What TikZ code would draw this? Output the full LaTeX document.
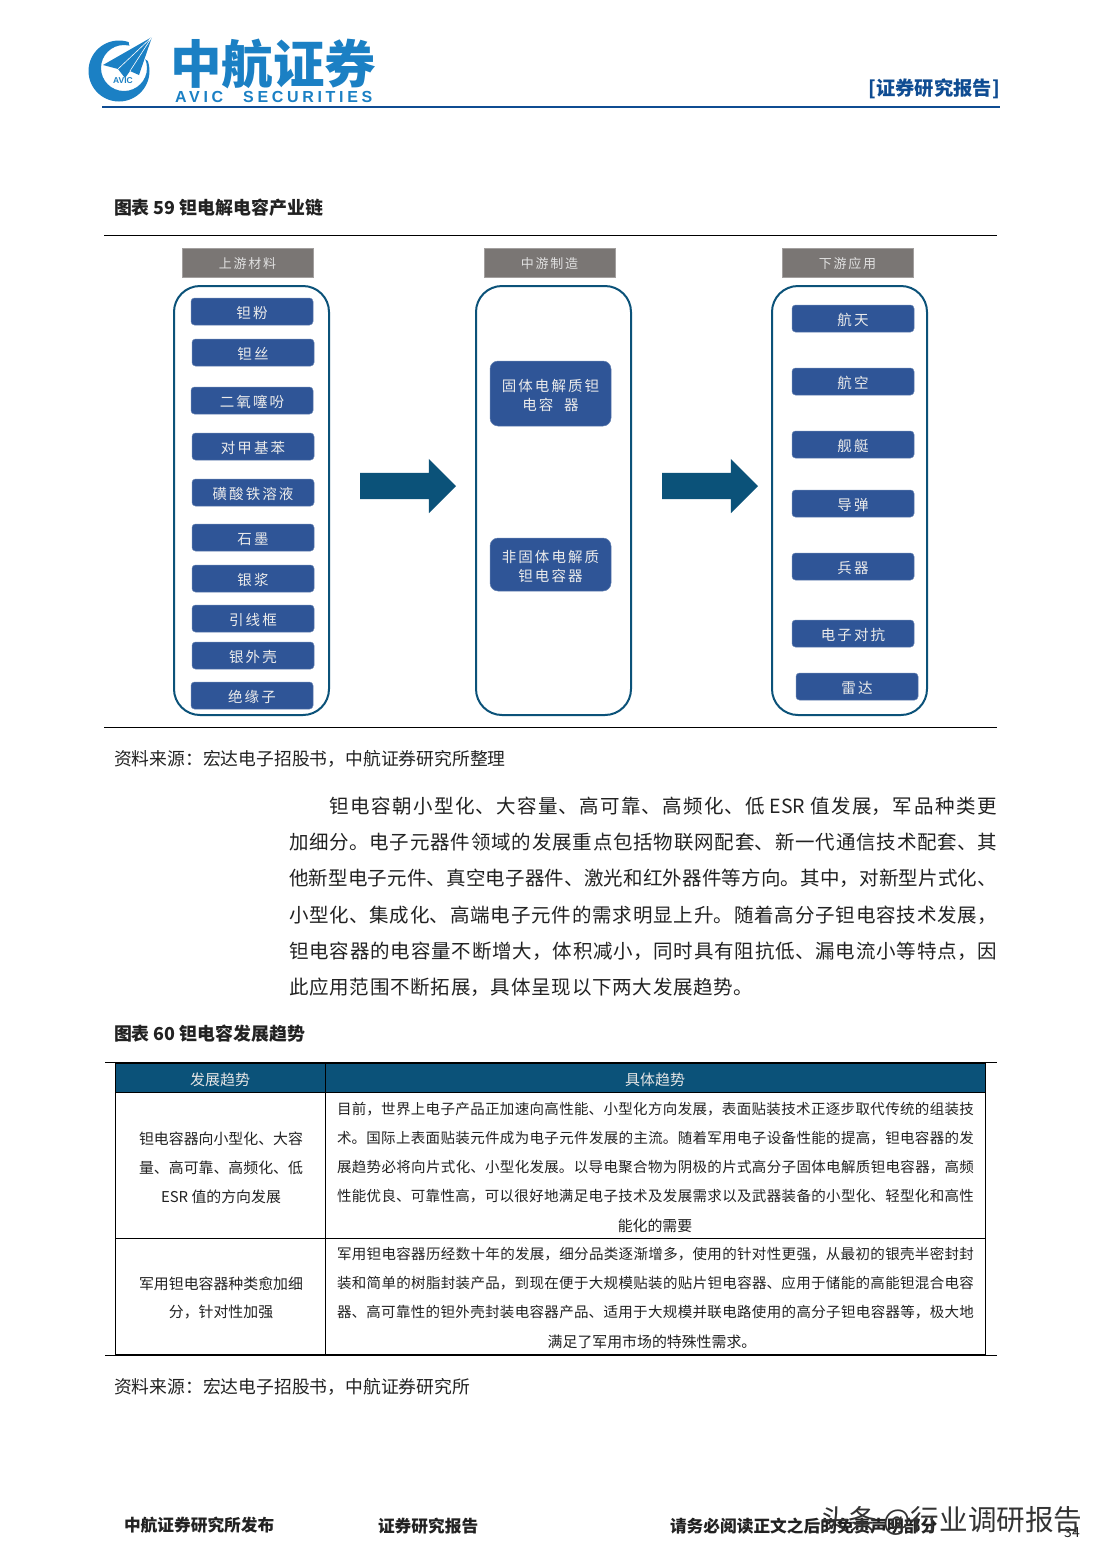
\documentclass[tikz,border=0pt]{standalone}
\usepackage{fontspec}
\usetikzlibrary{shapes.arrows}
\setmainfont{Noto Sans CJK SC}
\newfontfamily\cjksp[LetterSpace=14]{Noto Sans CJK SC}
\newfontfamily\avicf[LetterSpace=23]{Liberation Sans}
\newfontfamily\avicsm{Liberation Sans}
\XeTeXlinebreaklocale "zh"
\XeTeXlinebreakskip=0pt plus 6pt minus 1pt
\definecolor{boxblue}{HTML}{2F5597}
\definecolor{tealx}{HTML}{0B5279}
\definecolor{headgray}{HTML}{7A7674}
\definecolor{logoblue}{HTML}{1B80C4}
\definecolor{navyx}{HTML}{0F4C92}
\definecolor{txtc}{HTML}{222222}
\newcounter{txn}
\newcommand\myfs[1]{\fontsize{#1}{#1}\selectfont}
% justified line: x, y, width, size, text
\newcommand\myj[5]{\stepcounter{txn}\node[txtnode,anchor=west] (t\arabic{txn}) at (#1,#2) {\parbox{#3pt}{\myfs{#4}\parindent=0pt\parfillskip=0pt\tolerance=10000\relax #5\par}};}
% left line
\newcommand\myl[4]{\stepcounter{txn}\node[txtnode,anchor=west] (t\arabic{txn}) at (#1,#2) {\myfs{#3}#4};}
% centred line
\newcommand\myc[4]{\stepcounter{txn}\node[txtnode,anchor=center] (t\arabic{txn}) at (#1,#2) {\myfs{#3}#4};}
% small blue box: name, x1, y1, width, text
\newcommand\mybox[5]{\node[bluebox,minimum width=#4pt,anchor=north west] (#1) at (#2,#3) {\raisebox{-6.8pt}[0pt][0pt]{#5}};}
\tikzset{
  txtnode/.style={inner sep=0pt,outer sep=0pt,text=txtc},
  bluebox/.style={fill=boxblue,draw=boxblue!75!white,line width=.5pt,rounded corners=3.5pt,minimum height=27pt,inner sep=0pt,outer sep=0pt,text=white!92!black,font=\cjksp\myfs{14.5}},
  headbox/.style={fill=headgray,draw=headgray!70!white,line width=.6pt,minimum width=131pt,minimum height=29pt,inner sep=0pt,outer sep=0pt,anchor=north west,text=white!88!black,font=\cjksp\myfs{13}},
  container/.style={draw=tealx,line width=2pt,rounded corners=26pt,minimum width=155pt,minimum height=429pt,anchor=north west,inner sep=0pt,outer sep=0pt},
  blockarrow/.style={single arrow,fill=tealx,inner sep=0pt,outer sep=0pt,text width=0pt,text height=13pt,text depth=13pt,minimum height=96pt,single arrow head extend=14pt,single arrow tip angle=90,anchor=tip},
  rulex/.style={line width=.7pt,draw=black},
  tline/.style={line width=1pt,draw=black}
}
\begin{document}
\begin{tikzpicture}[x=1pt,y=-1pt]
\useasboundingbox (0,0) rectangle (1102,1559);
\fill[white] (0,0) rectangle (1102,1559);
% ---- logo
\fill[logoblue,even odd rule] (119,71) circle (30.5) (124,68) circle (23);
\fill[white] (128,36) -- (156,36) -- (150,62) -- (130,50) -- cycle;
\fill[logoblue] (152,37) -- (103,65) -- (118,69) -- (125,78) -- (130,71) -- (139,75) -- cycle;
\draw[white,line width=.6pt] (152,37) -- (118,69) (152,37) -- (130,71);
\node[inner sep=0pt,text=logoblue,font=\avicsm\bfseries\myfs{8.5}] (logoavic) at (123,81) {AVIC};
\node[inner sep=0pt,anchor=center,text=logoblue,font=\bfseries\myfs{51.5}] (logozh) at (273,64) {中航证券};
\node[inner sep=0pt,anchor=west,text=logoblue,font=\avicf\bfseries\myfs{16}] (logoa) at (175,96.5) {AVIC};
\node[inner sep=0pt,anchor=west,text=logoblue,font=\avicf\bfseries\myfs{16}] (logos) at (243,96.5) {SECURITIES};
\draw[navyx,line width=2pt] (102,107) -- (1000,107);
\node[inner sep=0pt,anchor=east,text=navyx,font=\bfseries\myfs{19.3}] (rep) at (1000,89) {[证券研究报告]};
% ---- figure 59
\myl{114}{208}{17.9}{\bfseries 图表 59 钽电解电容产业链}
\draw[rulex] (104,235.5) -- (997,235.5);
\draw[rulex] (104,727.5) -- (997,727.5);
\node[headbox] (h1) at (182,248) {\raisebox{-5.5pt}[0pt][0pt]{上游材料}};
\node[headbox] (h2) at (484,248) {\raisebox{-5.5pt}[0pt][0pt]{中游制造}};
\node[headbox] (h3) at (782,248) {\raisebox{-5.5pt}[0pt][0pt]{下游应用}};
\node[container] (c1) at (174,286) {};
\node[container] (c2) at (476,286) {};
\node[container] (c3) at (772,286) {};
\mybox{a1}{191}{298}{122}{钽粉}
\mybox{a2}{192}{339}{122}{钽丝}
\mybox{a3}{191}{387}{122}{二氧噻吩}
\mybox{a4}{192}{433}{122}{对甲基苯}
\mybox{a5}{192}{479}{122}{磺酸铁溶液}
\mybox{a6}{192}{524}{122}{石墨}
\mybox{a7}{192}{565}{122}{银浆}
\mybox{a8}{192}{605}{122}{引线框}
\mybox{a9}{192}{642}{122}{银外壳}
\mybox{a10}{191}{682}{122}{绝缘子}
\node[bluebox,rounded corners=8pt,minimum width=121pt,minimum height=65pt,anchor=north west,align=center] (m1) at (490,361) {\rule{0pt}{16pt}固体电解质钽\\[4.5pt]电容\ \ 器};
\node[bluebox,rounded corners=8pt,minimum width=121pt,minimum height=53pt,anchor=north west,align=center] (m2) at (490,538) {\rule{0pt}{16pt}非固体电解质\\[4.5pt]钽电容器};
\mybox{b1}{792}{305}{122}{航天}
\mybox{b2}{792}{368}{122}{航空}
\mybox{b3}{792}{431}{122}{舰艇}
\mybox{b4}{792}{490}{122}{导弹}
\mybox{b5}{792}{553}{122}{兵器}
\mybox{b6}{792}{620}{122}{电子对抗}
\mybox{b7}{796}{673}{122}{雷达}
\node[blockarrow] (ar1) at (456,486) {};
\node[blockarrow] (ar2) at (758,486) {};
\myl{114}{759}{17.8}{资料来源：宏达电子招股书，中航证券研究所整理}
% ---- paragraph
\myj{329}{806}{668}{19.5}{钽电容朝小型化、大容量、高可靠、高频化、低 ESR 值发展，军品种类更}
\myj{289}{842}{708}{19.5}{加细分。电子元器件领域的发展重点包括物联网配套、新一代通信技术配套、其}
\myj{289}{878}{708}{19.5}{他新型电子元件、真空电子器件、激光和红外器件等方向。其中，对新型片式化、}
\myj{289}{915}{708}{19.5}{小型化、集成化、高端电子元件的需求明显上升。随着高分子钽电容技术发展，}
\myj{289}{951}{708}{19.5}{钽电容器的电容量不断增大，体积减小，同时具有阻抗低、漏电流小等特点，因}
\myj{289}{987}{464}{19.5}{此应用范围不断拓展，具体呈现以下两大发展趋势。}
% ---- figure 60
\myl{114}{1034}{17.9}{\bfseries 图表 60 钽电容发展趋势}
\fill[tealx] (115,1064) rectangle (985,1092);
\draw[rulex] (105,1062.5) -- (997,1062.5);
\draw[tline,line width=1.4pt] (115,1063.5) -- (985,1063.5);
\draw[tline] (115,1092.5) -- (985,1092.5);
\draw[tline] (115,1238.5) -- (985,1238.5);
\draw[tline,line width=1.4pt] (115,1355) -- (985,1355);
\draw[rulex] (105,1355.5) -- (997,1355.5);
\draw[tline] (115.5,1063) -- (115.5,1355);
\draw[tline] (325.5,1063) -- (325.5,1355);
\draw[tline] (985.5,1063) -- (985.5,1355);
\node[txtnode,text=white!90!black,font=\myfs{15}] (th1) at (220,1079.5) {发展趋势};
\node[txtnode,text=white!90!black,font=\myfs{15}] (th2) at (655,1079.5) {具体趋势};
\myc{221}{1138.5}{14.9}{钽电容器向小型化、大容}
\myc{221}{1167.5}{14.9}{量、高可靠、高频化、低}
\myc{221}{1196.5}{14.9}{ESR 值的方向发展}
\myc{221}{1283.5}{14.9}{军用钽电容器种类愈加细}
\myc{221}{1312.5}{14.9}{分，针对性加强}
\myj{337}{1109.5}{637}{14.5}{目前，世界上电子产品正加速向高性能、小型化方向发展，表面贴装技术正逐步取代传统的组装技}
\myj{337}{1138.5}{637}{14.5}{术。国际上表面贴装元件成为电子元件发展的主流。随着军用电子设备性能的提高，钽电容器的发}
\myj{337}{1167.5}{637}{14.5}{展趋势必将向片式化、小型化发展。以导电聚合物为阴极的片式高分子固体电解质钽电容器，高频}
\myj{337}{1196.5}{637}{14.5}{性能优良、可靠性高，可以很好地满足电子技术及发展需求以及武器装备的小型化、轻型化和高性}
\myc{655}{1225.5}{14.9}{能化的需要}
\myj{337}{1254.5}{637}{14.5}{军用钽电容器历经数十年的发展，细分品类逐渐增多，使用的针对性更强，从最初的银壳半密封封}
\myj{337}{1283.5}{637}{14.5}{装和简单的树脂封装产品，到现在便于大规模贴装的贴片钽电容器、应用于储能的高能钽混合电容}
\myj{337}{1312.5}{637}{14.5}{器、高可靠性的钽外壳封装电容器产品、适用于大规模并联电路使用的高分子钽电容器等，极大地}
\myc{652}{1341.5}{14.9}{满足了军用市场的特殊性需求。}
\myl{114}{1387}{17.8}{资料来源：宏达电子招股书，中航证券研究所}
% ---- footer
\myl{124}{1525}{16.7}{\bfseries 中航证券研究所发布}
\myl{378}{1526}{16.7}{\bfseries 证券研究报告}
\myl{670}{1526}{16.7}{\bfseries 请务必阅读正文之后的免责声明部分}
\myc{1072}{1532}{14}{34}
\node[inner sep=0pt,anchor=west,text=black!80,font=\myfs{28.6}] (wm) at (820,1521) {头条 @行业调研报告};
\end{tikzpicture}
\end{document}
